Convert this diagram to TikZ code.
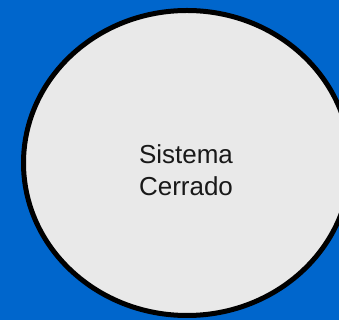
\documentclass[tikz,border=0pt]{standalone}
\usepackage{fontspec}
\setmainfont{Liberation Sans}
\usepackage{xcolor}
\usetikzlibrary{shapes.geometric, positioning}
\definecolor{bgblue}{RGB}{0,102,204}
\definecolor{sysgray}{RGB}{233,233,233}
\tikzset{
  sysbox/.style={ellipse, draw=black, fill=sysgray, line width=5pt, minimum width=327pt, minimum height=305pt, inner sep=0pt},
  syslabel/.style={align=center, font=\fontsize{26}{31.5}\selectfont, text=black!90},
}
\begin{document}
\begin{tikzpicture}[x=1pt, y=1pt]
  % Background
  \fill[bgblue] (0,0) rectangle (339,320);
  \useasboundingbox (0,0) rectangle (339,320);

  % Closed system
  \node[sysbox] (sys) at (187,157) {};
  \node[syslabel] (lbl) at (186,150) {Sistema\\Cerrado};
\end{tikzpicture}
\end{document}
